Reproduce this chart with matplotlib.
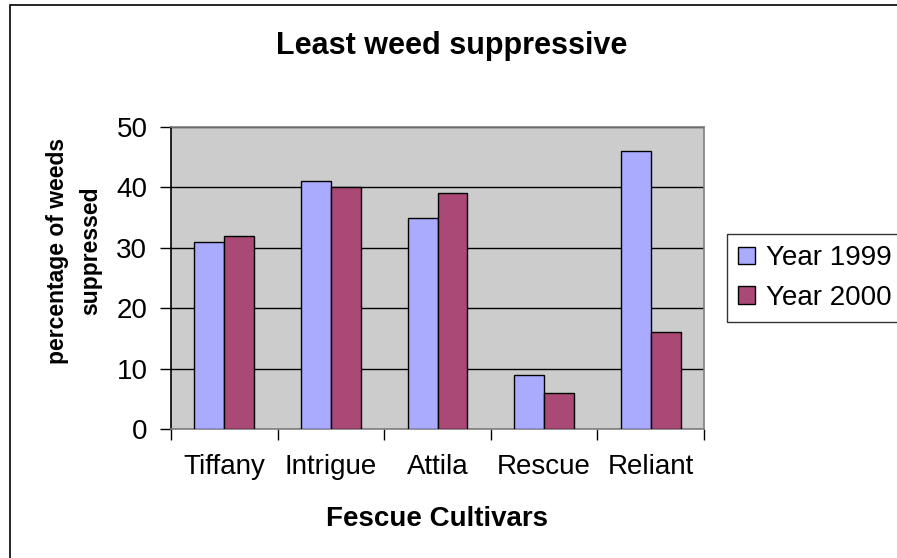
import matplotlib
matplotlib.use("Agg")
import matplotlib.pyplot as plt
import numpy as np
from matplotlib.patches import Rectangle

plt.rcParams['font.family'] = ['Liberation Sans', 'DejaVu Sans']

cultivars = ['Tiffany', 'Intrigue', 'Attila', 'Rescue', 'Reliant']
year_1999 = [31, 41, 35, 9, 46]
year_2000 = [32, 40, 39, 6, 16]
y_ticks = [0, 10, 20, 30, 40, 50]

W, H = 897, 558
fig = plt.figure(figsize=(W / 100, H / 100), dpi=100)

# chart border, running off the right and bottom edges
fig.patches.append(Rectangle((10 / W, -0.1), 1.2, 1 - 5 / H + 0.1,
                             transform=fig.transFigure, fill=False,
                             edgecolor='black', linewidth=1.2))

ax = fig.add_axes([171 / W, 1 - 429 / H, (704 - 171) / W, (429 - 127) / H])
ax.set_facecolor('#CCCCCC')

x = np.arange(len(cultivars))
w = 0.281
b1 = ax.bar(x - w / 2, year_1999, w, color='#AAAAFF', edgecolor='black',
            linewidth=1, label='Year 1999', zorder=3)
b2 = ax.bar(x + w / 2, year_2000, w, color='#AA4876', edgecolor='black',
            linewidth=1, label='Year 2000', zorder=3)

ax.set_xlim(-0.5, len(cultivars) - 0.5)
ax.set_ylim(0, 50)
ax.set_yticks(y_ticks)
ax.yaxis.grid(True, color='black', linewidth=1, zorder=1)
ax.set_axisbelow(True)

ax.set_xticks(x)
ax.set_xticklabels(cultivars)
ax.set_xticks(np.arange(len(cultivars) + 1) - 0.5, minor=True)
ax.tick_params(axis='x', which='major', length=0, pad=18, labelsize=20)
ax.tick_params(axis='x', which='minor', length=8, width=1, color='black')
ax.tick_params(axis='y', length=8, width=1, pad=9, labelsize=20)

for s in ['top', 'right', 'bottom']:
    ax.spines[s].set_color('#808080')
    ax.spines[s].set_linewidth(1.2)
ax.spines['left'].set_color('black')
ax.spines['left'].set_linewidth(1.2)

fig.text(452 / W, 1 - 54 / H, 'Least weed suppressive', ha='center',
         va='baseline', fontsize=22, fontweight='bold')
fig.text(437 / W, 1 - 526 / H, 'Fescue Cultivars', ha='center',
         va='baseline', fontsize=20, fontweight='bold')
fig.text(74 / W, 1 - 251 / H, 'percentage of weeds\nsuppressed', ha='center',
         va='center', rotation=90, fontsize=16.5, fontweight='bold',
         linespacing=1.55)

leg = fig.legend(handles=[b1, b2], loc='upper left',
                 bbox_to_anchor=(727 / W, 1 - 234 / H), borderaxespad=0,
                 fontsize=20, frameon=True, fancybox=False,
                 handlelength=0.6, handleheight=0.6, handletextpad=0.4,
                 borderpad=0.4, labelspacing=0.5)
leg.get_frame().set_edgecolor('black')
leg.get_frame().set_linewidth(1)

fig.savefig('out.png', dpi=100)
